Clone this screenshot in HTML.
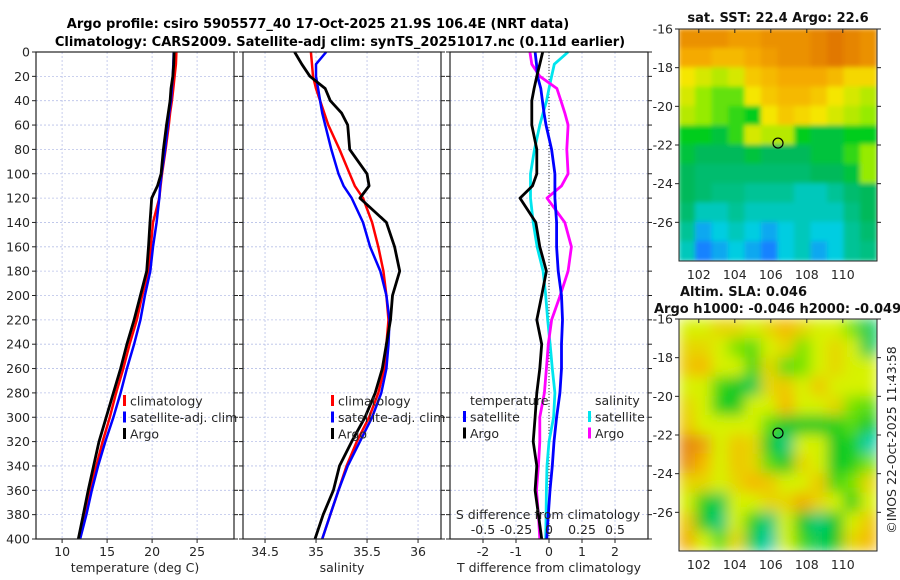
<!DOCTYPE html>
<html><head><meta charset="utf-8">
<style>
html,body{margin:0;padding:0;background:#fff;}
svg{display:block;font-family:"DejaVu Sans","Liberation Sans",sans-serif;}
</style></head>
<body>
<svg id="fig" width="900" height="580" viewBox="0 0 900 580" xmlns="http://www.w3.org/2000/svg">
<defs>
<filter id="blurS" x="0" y="0" width="100%" height="100%"><feGaussianBlur stdDeviation="2.5" edgeMode="duplicate"/></filter>
<filter id="blurA" x="0" y="0" width="100%" height="100%"><feGaussianBlur stdDeviation="7" edgeMode="duplicate"/></filter>
<clipPath id="clipTop"><rect x="679" y="29" width="198" height="232"/></clipPath>
<clipPath id="clipBot"><rect x="679" y="319" width="198" height="232"/></clipPath>
</defs>
<text x="318" y="28" text-anchor="middle" font-size="13" font-weight="bold">Argo profile: csiro 5905577_40 17-Oct-2025 21.9S 106.4E (NRT data)</text>
<text x="340" y="46" text-anchor="middle" font-size="13" font-weight="bold">Climatology: CARS2009. Satellite-adj clim: synTS_20251017.nc (0.11d earlier)</text>
</svg>
<script>
// depths shared by profiles
const depths = [0,10,20,30,40,50,60,80,100,110,120,140,160,180,200,220,240,260,280,300,320,340,360,380,400];
// temperature (deg C)
const tArgo = [22.45,22.4,22.3,22.1,22.0,21.8,21.6,21.25,21.0,20.6,19.96,19.77,19.6,19.4,18.7,18.0,17.2,16.5,15.7,14.9,14.1,13.5,12.9,12.35,11.8];
const tClim = [22.7,22.65,22.5,22.35,22.2,22.0,21.85,21.5,21.1,20.95,20.8,20.1,19.85,19.6,18.9,18.3,17.5,16.8,16.0,15.3,14.5,13.8,13.1,12.5,11.95];
const tSat  = [22.4,22.35,22.3,22.2,22.1,21.9,21.75,21.45,21.05,20.9,20.8,20.5,20.1,19.8,19.2,18.7,18.0,17.2,16.5,15.7,14.8,14.0,13.3,12.7,12.0];
// salinity
const sArgo = [34.79,34.86,34.94,35.09,35.14,35.25,35.31,35.33,35.5,35.52,35.43,35.69,35.77,35.82,35.75,35.73,35.69,35.65,35.58,35.48,35.35,35.23,35.17,35.07,34.99];
const sClim = [34.95,34.96,34.97,35.0,35.04,35.08,35.12,35.23,35.33,35.38,35.46,35.55,35.61,35.66,35.69,35.71,35.69,35.67,35.61,35.52,35.4,35.3,35.22,35.14,35.06];
const sSat  = [35.10,35.0,35.0,35.02,35.04,35.06,35.09,35.15,35.22,35.27,35.35,35.46,35.53,35.63,35.69,35.72,35.71,35.69,35.64,35.55,35.43,35.31,35.22,35.14,35.06];
// differences from climatology
const dTArgo = [-0.19,-0.28,-0.37,-0.45,-0.52,-0.52,-0.52,-0.37,-0.37,-0.5,-0.88,-0.4,-0.28,-0.08,-0.22,-0.37,-0.22,-0.28,-0.37,-0.42,-0.48,-0.37,-0.42,-0.32,-0.22];
const dTSat  = [-0.42,-0.38,-0.35,-0.25,-0.2,-0.15,-0.09,0.08,0.18,0.18,0.18,0.23,0.23,0.28,0.38,0.41,0.38,0.38,0.33,0.23,0.15,0.1,0.03,-0.02,-0.07];
const dSSat  = [0.145,0.04,0.02,0.0,-0.018,-0.045,-0.07,-0.11,-0.14,-0.14,-0.14,-0.12,-0.09,-0.045,-0.025,-0.01,0.008,0.025,0.045,0.035,0.0,-0.015,-0.02,-0.022,-0.025];
const dSArgo = [-0.145,-0.13,-0.07,0.06,0.09,0.12,0.145,0.135,0.145,0.095,-0.015,0.12,0.17,0.145,0.085,0.02,-0.005,-0.02,-0.035,-0.07,-0.07,-0.08,-0.095,-0.08,-0.07];
// tick labels
const depthTicks = [0,20,40,60,80,100,120,140,160,180,200,220,240,260,280,300,320,340,360,380,400];
const tTicks = [10,15,20,25];
const sTicks = [34.5,35,35.5,36];
const dTTicks = [-2,-1,0,1,2];
const dSTicks = [-0.5,-0.25,0,0.25,0.5];
const dSTickLabels = ["-0.5","-0.25","0","0.25","0.5"];
// map grids (rows lat -16.5..-27.5, cols lon 101.4..111.4)
const sstGrid = [
[23.6,23.6,23.6,23.5,23.5,23.6,23.6,23.6,23.7,23.8,23.7,23.6],
[23.4,23.4,23.3,23.3,23.4,23.5,23.6,23.6,23.7,23.8,23.7,23.6],
[23.0,22.9,22.8,22.9,23.2,23.3,23.4,23.4,23.4,23.3,23.1,23.1],
[22.9,22.7,22.6,22.6,23.0,23.2,23.3,23.3,23.2,23.0,22.9,22.8],
[22.8,22.7,22.6,22.5,22.4,23.0,23.2,23.1,23.0,22.9,22.8,22.7],
[22.4,22.4,22.3,22.5,22.9,22.8,22.8,22.4,22.3,22.3,22.4,22.4],
[22.3,22.2,22.2,22.2,22.3,22.2,22.2,22.2,22.3,22.3,22.5,22.7],
[22.2,22.1,22.1,22.1,22.1,22.1,22.1,22.1,22.2,22.2,22.3,22.7],
[22.2,22.1,22.0,22.0,21.9,21.9,21.9,21.8,21.8,21.9,22.1,22.2],
[22.1,21.8,21.8,21.9,21.8,21.8,21.8,21.8,21.8,21.8,22.0,22.2],
[21.9,21.6,21.7,21.8,21.7,21.6,21.7,21.8,21.7,21.7,21.9,22.1],
[21.8,21.5,21.6,21.7,21.6,21.5,21.7,21.8,21.6,21.7,21.9,22.0]];
const slaGrid = [
[0,0,0.02,0.02,0,0.02,0.04,0.02,0,0,-0.02,-0.07],
[0.02,0.02,0,-0.02,-0.03,0,0.02,-0.02,0,0.02,0,-0.07],
[0.03,0.04,0,0,-0.04,0.02,-0.03,-0.02,0,0.02,0,0],
[0,0,-0.04,-0.06,-0.07,0.02,0.03,0,0.03,0,0,0],
[0.02,0,-0.05,-0.06,0,0,0.04,0,0,0.02,-0.02,-0.03],
[0.03,0,0,0,0,-0.03,-0.06,-0.06,-0.06,-0.05,-0.03,-0.06],
[0.08,0.06,0,0.03,0.02,-0.06,-0.08,0,0,-0.06,-0.05,-0.09],
[0.07,0.04,0,0.03,0.02,-0.03,-0.06,0.02,0,-0.06,-0.05,-0.02],
[0.02,0.02,0,0.02,0.04,0.03,0,0,0.03,-0.04,-0.02,0.02],
[0,-0.05,-0.07,0,0,0.02,0.02,0.05,0.02,0,-0.05,0],
[0.03,-0.06,-0.08,0,-0.05,-0.08,0,-0.06,-0.08,-0.06,0,0.03],
[0.05,0,-0.03,0.02,-0.07,-0.09,0,-0.04,-0.07,-0.06,0.02,0.04]];
const lonTicks = [102,104,106,108,110];
const latTicks = [-16,-18,-20,-22,-24,-26];
const argoPos = [106.4,-21.9];

const NS="http://www.w3.org/2000/svg";
const svg=document.getElementById('fig');
function mk(tag,attrs,parent){const e=document.createElementNS(NS,tag);for(const k in attrs)e.setAttribute(k,attrs[k]);(parent||svg).appendChild(e);return e;}

const Y0=52,Y1=539;
const yS=d=>Y0+(Y1-Y0)*d/400;
function lin(d0,d1,r0,r1){return v=>r0+(v-d0)*(r1-r0)/(d1-d0);}

function panel(name,x0,x1,xScale,xTicks,xLabels,xTitle){
  const g=mk('g',{});
  
  
  xTicks.forEach(t=>{const l=mk('line',{x1:xScale(t),x2:xScale(t),y1:Y0,y2:Y1,stroke:'#b8c0e8','stroke-width':0.8,'stroke-dasharray':'2,2'},g);
    
    });
  depthTicks.forEach(d=>{const l=mk('line',{x1:x0,x2:x1,y1:yS(d),y2:yS(d),stroke:'#b8c0e8','stroke-width':0.8,'stroke-dasharray':'2,2'},g);
    
    
    const tl=mk('line',{x1:x0-4,x2:x0,y1:yS(d),y2:yS(d),stroke:'#222','stroke-width':1},g);
    
    
    const tr=mk('line',{x1:x1,x2:x1+4,y1:yS(d),y2:yS(d),stroke:'#222','stroke-width':1},g);
    
    
    if(x0<40){const t=mk('text',{x:x0-6,y:yS(d)+4.5,'text-anchor':'end','font-size':12.5,fill:'#262626'},g);t.textContent=d;
      
      }
  });
  xTicks.forEach((t,i)=>{const tk=mk('line',{x1:xScale(t),x2:xScale(t),y1:Y1,y2:Y1+4,stroke:'#222','stroke-width':1},g);
    
    
    const tx=mk('text',{x:xScale(t),y:556,'text-anchor':'middle','font-size':12.5,fill:'#262626'},g);tx.textContent=xLabels[i];
    
    });
  const xt=mk('text',{x:(x0+x1)/2,y:572,'text-anchor':'middle','font-size':12.5,fill:'#262626'},g);xt.textContent=xTitle;
  
  
  return g;
}
function frame(g,x0,x1){const r=mk('rect',{x:x0,y:Y0,width:x1-x0,height:Y1-Y0,fill:'none',stroke:'#222','stroke-width':1.2},g);
  
  }
function series(g,vals,xScale,color,w,name){
  const pts=vals.map((v,i)=>xScale(v).toFixed(1)+','+yS(depths[i]).toFixed(1)).join(' ');
  const p=mk('polyline',{points:pts,fill:'none',stroke:color,'stroke-width':w,'stroke-linejoin':'round'},g);
  
  
}
function legend(g,x,y,items){
  items.forEach((it,i)=>{
    const m=mk('rect',{x:x,y:y+i*16.5-6,width:3,height:11,fill:it[1]},g);
    
    
    const t=mk('text',{x:x+7,y:y+i*16.5+4.5,'font-size':12.5,fill:'#262626'},g);t.textContent=it[0];
    
    
  });
}

// Panel 1 temperature
const xT=lin(7.1,29.1,36,234);
const g1=panel('temperature-panel',36,234,xT,tTicks,tTicks.map(String),'temperature (deg C)');
series(g1,tClim,xT,'#ff0000',2.5,'temp-climatology-line');
series(g1,tSat,xT,'#0000ff',2.5,'temp-satellite-line');
series(g1,tArgo,xT,'#000000',2.8,'temp-argo-line');
legend(g1,123,401,[['climatology','#ff0000'],['satellite-adj. clim','#0000ff'],['Argo','#000000']]);
frame(g1,36,234);

// Panel 2 salinity
const xS=lin(34.284,36.225,243,441);
const g2=panel('salinity-panel',243,441,xS,sTicks,['34.5','35','35.5','36'],'salinity');
series(g2,sClim,xS,'#ff0000',2.5,'sal-climatology-line');
series(g2,sSat,xS,'#0000ff',2.5,'sal-satellite-line');
series(g2,sArgo,xS,'#000000',2.8,'sal-argo-line');
legend(g2,331,401,[['climatology','#ff0000'],['satellite-adj. clim','#0000ff'],['Argo','#000000']]);
frame(g2,243,441);

// Panel 3 differences
const xD=lin(-3,3,450,648);
const xDS=lin(-0.75,0.75,450,648);
const g3=panel('difference-panel',450,648,xD,dTTicks,dTTicks.map(String),'T difference from climatology');
const z=mk('line',{x1:xD(0),x2:xD(0),y1:Y0,y2:Y1,stroke:'#333','stroke-width':1,'stroke-dasharray':'1,2'},g3);


series(g3,dSSat,xDS,'#00e5ee',2.8,'sdiff-satellite-line');
series(g3,dSArgo,xDS,'#ff00ff',2.8,'sdiff-argo-line');
series(g3,dTSat,xD,'#0000ff',2.8,'tdiff-satellite-line');
series(g3,dTArgo,xD,'#000000',2.8,'tdiff-argo-line');
{const t=mk('text',{x:470,y:405,'font-size':12.5,fill:'#262626'},g3);t.textContent='temperature';


const t2=mk('text',{x:595,y:405,'font-size':12.5,fill:'#262626'},g3);t2.textContent='salinity';

}
legend(g3,463,417,[['satellite','#0000ff'],['Argo','#000000']]);
legend(g3,588,417,[['satellite','#00e5ee'],['Argo','#ff00ff']]);
{const t=mk('text',{x:548,y:519,'text-anchor':'middle','font-size':12.5,fill:'#262626'},g3);t.textContent='S difference from climatology';


dSTicks.forEach((v,i)=>{const tx=mk('text',{x:xDS(v),y:534,'text-anchor':'middle','font-size':12.5,fill:'#262626'},g3);tx.textContent=dSTickLabels[i];

});}
frame(g3,450,648);

// maps
function colorFrom(stops,v){
  if(v<=stops[0][0])return 'rgb('+stops[0][1].join(',')+')';
  for(let i=1;i<stops.length;i++){if(v<=stops[i][0]){const a=stops[i-1],b=stops[i],f=(v-a[0])/(b[0]-a[0]);
    return 'rgb('+[0,1,2].map(k=>Math.round(a[1][k]+(b[1][k]-a[1][k])*f)).join(',')+')';}}
  return 'rgb('+stops[stops.length-1][1].join(',')+')';
}
const sstStops=[[21.5,[20,130,255]],[21.7,[0,205,225]],[21.9,[0,195,150]],[22.2,[0,185,90]],[22.4,[0,205,30]],[22.7,[150,235,0]],[23.0,[245,230,0]],[23.4,[245,170,0]],[23.8,[225,120,0]]];
const slaStops=[[-0.09,[0,205,170]],[-0.06,[0,200,40]],[-0.02,[120,228,0]],[0.0,[215,242,0]],[0.04,[245,185,0]],[0.09,[225,120,20]]];
function mapPanel(name,top,grid,stops,filt,clip){
  const x0=679,x1=877,y1=top+232;
  const lonS=lin(100.9,111.9,x0,x1), latS=lin(-16,-28,top,y1);
  const g=mk('g',{});
  
  
  const cg=mk('g',{'clip-path':'url(#'+clip+')'},g);
  const hg=mk('g',{filter:'url(#'+filt+')'},cg);
  const nr=grid.length,nc=grid[0].length,cw=(x1-x0)/nc,ch=(y1-top)/nr;
  grid.forEach((row,r)=>row.forEach((v,k)=>{
    const cell=mk('rect',{x:x0+k*cw-0.5,y:top+r*ch-0.5,width:cw+1,height:ch+1,fill:colorFrom(stops,v)},hg);
    
    
  }));
  const fr=mk('rect',{x:x0,y:top,width:x1-x0,height:y1-top,fill:'none',stroke:'#222','stroke-width':1},g);
  
  
  lonTicks.forEach(l=>{const tk=mk('line',{x1:lonS(l),x2:lonS(l),y1:top,y2:top+4,stroke:'#222'},g);
    
    
    const t=mk('text',{x:lonS(l),y:y1+18,'text-anchor':'middle','font-size':12.5,fill:'#262626'},g);t.textContent=l;
    
    });
  latTicks.forEach(l=>{const tk=mk('line',{x1:x0-4,x2:x0,y1:latS(l),y2:latS(l),stroke:'#222'},g);
    
    
    const tk2=mk('line',{x1:x1,x2:x1+4,y1:latS(l),y2:latS(l),stroke:'#222'},g);
    
    
    const t=mk('text',{x:x0-6,y:latS(l)+4.5,'text-anchor':'end','font-size':12.5,fill:'#262626'},g);t.textContent=l;
    
    });
  const ci=mk('circle',{cx:lonS(argoPos[0]),cy:latS(argoPos[1]),r:5,fill:'none',stroke:'#000','stroke-width':1.2},g);
  
  
}
mapPanel('sst-map',29,sstGrid,sstStops,'blurS','clipTop');
mapPanel('sla-map',319,slaGrid,slaStops,'blurA','clipBot');
function txt(x,y,s,name,extra){const t=mk('text',Object.assign({x:x,y:y,'font-size':13,'font-weight':'bold',fill:'#111'},extra||{}));t.textContent=s;
  
  return t;}
txt(778,22,'sat. SST: 22.4 Argo: 22.6','sst-map-title',{'text-anchor':'middle'});
txt(680,296,'Altim. SLA: 0.046','sla-map-title');
txt(654,313,'Argo h1000: -0.046 h2000: -0.049','sla-map-subtitle');
const cr=mk('text',{x:0,y:0,'font-size':12.5,fill:'#262626','text-anchor':'middle',transform:'translate(896,440) rotate(-90)'});
cr.textContent='©IMOS 22-Oct-2025 11:43:58';


</script>
</body></html>
